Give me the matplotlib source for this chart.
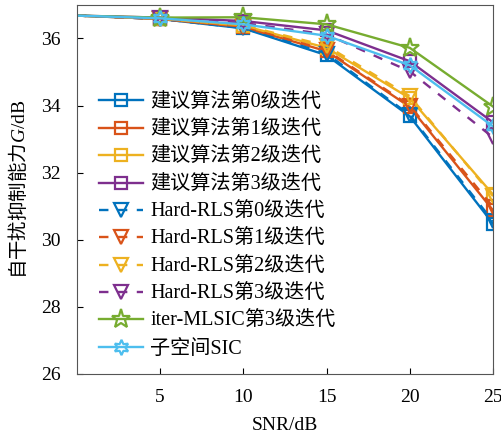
"""Self-interference suppression vs SNR for several iterative schemes."""

import matplotlib

matplotlib.use("Agg")
import matplotlib.pyplot as plt

snr = [0, 5, 10, 15, 20, 25]

prop_0 = [36.68, 36.58, 36.30, 35.50, 33.68, 30.48]
prop_1 = [36.68, 36.58, 36.34, 35.62, 33.96, 30.88]
prop_2 = [36.68, 36.59, 36.38, 35.72, 34.22, 31.35]
prop_3 = [36.68, 36.62, 36.52, 36.24, 35.32, 33.50]
hard_0 = [36.68, 36.58, 36.31, 35.55, 33.72, 30.55]
hard_1 = [36.68, 36.58, 36.35, 35.65, 34.00, 30.98]
hard_2 = [36.68, 36.59, 36.39, 35.78, 34.28, 31.30]
hard_3 = [36.68, 36.60, 36.46, 36.12, 35.02, 33.05]
mlsic_3 = [36.68, 36.62, 36.63, 36.42, 35.72, 33.97]
subspace = [36.68, 36.60, 36.42, 36.08, 35.20, 33.38]

labels = [
    "建议算法第0级迭代", "建议算法第1级迭代", "建议算法第2级迭代", "建议算法第3级迭代",
    "Hard-RLS第0级迭代", "Hard-RLS第1级迭代", "Hard-RLS第2级迭代", "Hard-RLS第3级迭代",
    "iter-MLSIC第3级迭代", "子空间SIC",
]

BLUE, ORANGE, YELLOW, PURPLE = "#0072BD", "#D95319", "#EDB120", "#7E2F8E"
GREEN, CYAN = "#77AC30", "#4DBEEE"

plt.rcParams.update(
    {
        "font.family": ["Liberation Serif", "Noto Sans CJK SC"],
        "mathtext.fontset": "custom",
        "mathtext.rm": "Noto Sans CJK SC",
        "mathtext.it": "Liberation Serif:italic",
        "mathtext.sf": "Liberation Serif",
        "font.size": 14,
        "xtick.direction": "in",
        "ytick.direction": "in",
        "axes.edgecolor": "#555555",
    }
)

fig = plt.figure(figsize=(5.02, 4.41), dpi=100)
ax = fig.add_axes([0.153, 0.152, 0.829, 0.837])

series = [
    (prop_0, BLUE, "-", "s", 8.5),
    (prop_1, ORANGE, "-", "s", 8.5),
    (prop_2, YELLOW, "-", "s", 8.5),
    (prop_3, PURPLE, "-", "s", 8.5),
    (hard_0, BLUE, "--", "v", 10.5),
    (hard_1, ORANGE, "--", "v", 10.5),
    (hard_2, YELLOW, "--", "v", 10.5),
    (hard_3, PURPLE, "--", "v", 10.5),
    (mlsic_3, GREEN, "-", "*", 14),
    (subspace, CYAN, "-", (6, 1, 0), 11),
]

for (vals, color, ls, marker, ms), label in zip(series, labels):
    ax.plot(
        snr, vals, color=color, linestyle=ls, linewidth=1.7,
        marker=marker, markersize=ms, markerfacecolor="none",
        markeredgewidth=1.6, markevery=slice(1, None), label=label,
        dashes=(4, 4) if ls == "--" else (None, None),
    )

ax.set_xlim(0, 25)
ax.set_ylim(26, 37)
ax.set_xticks([5, 10, 15, 20, 25])
ax.set_yticks([26, 28, 30, 32, 34, 36])
ax.tick_params(length=4, width=0.8)
ax.tick_params(axis="x", pad=11)
ax.tick_params(axis="y", pad=11.5)
ax.set_xlabel("SNR/dB", labelpad=8)
ax.set_ylabel(r"$\mathrm{自干扰抑制能力}\mathit{G}\mathsf{/dB}$", labelpad=9)

ax.legend(
    loc="upper left", bbox_to_anchor=(0.0, 0.82), frameon=False, fontsize=14.5,
    handlelength=2.2, labelspacing=0.41, handletextpad=0.35, borderaxespad=0.7,
)

fig.savefig("out.png", dpi=100)
